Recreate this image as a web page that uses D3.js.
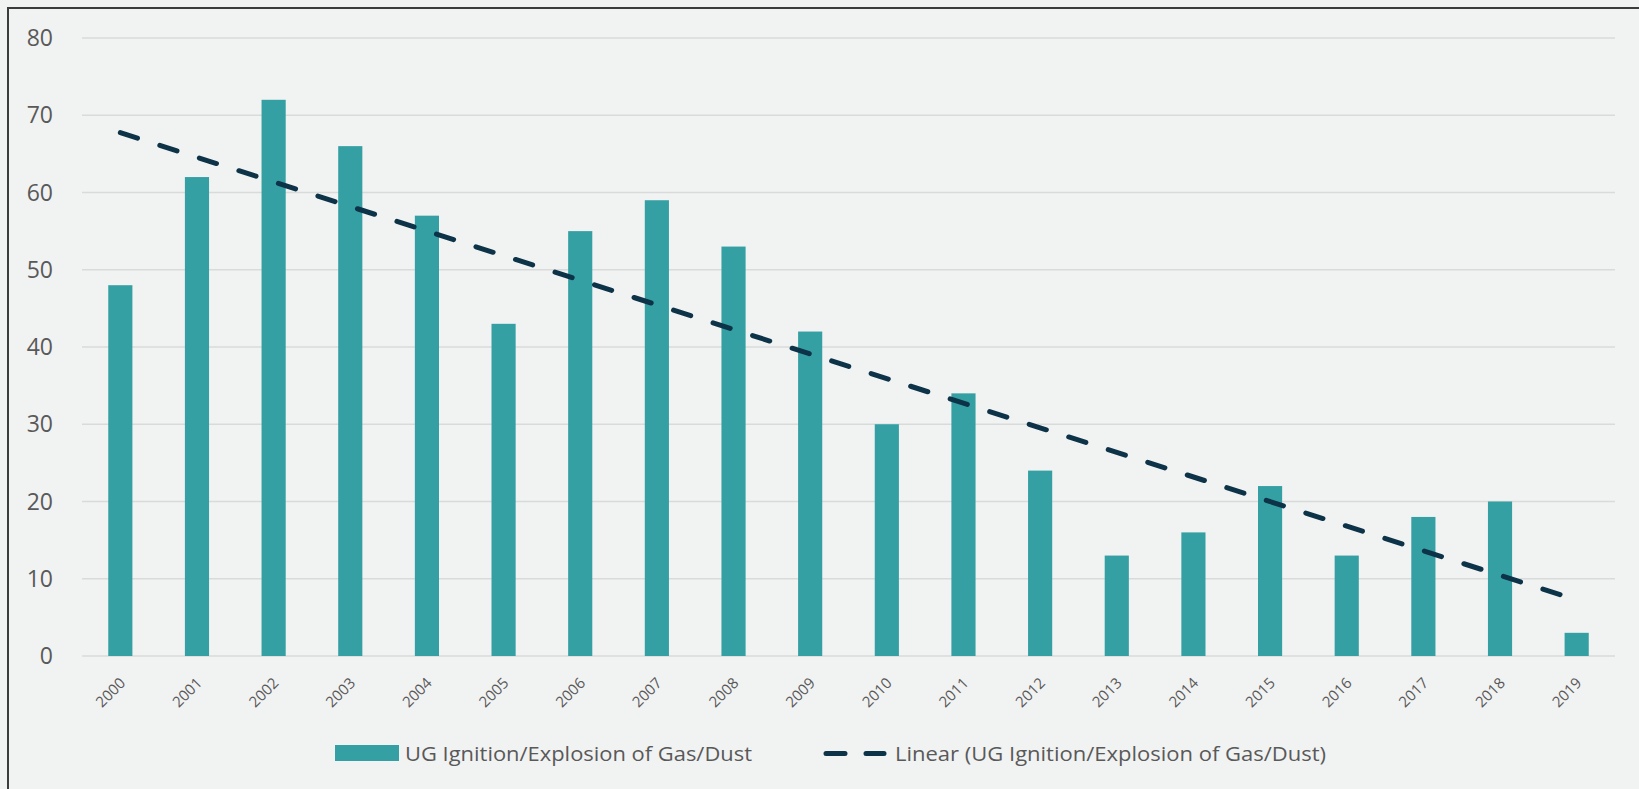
<!DOCTYPE html>
<html>
<head>
<meta charset="utf-8">
<script src="https://cdn.jsdelivr.net/npm/d3@7"></script>
<style>
  html, body { margin: 0; padding: 0; background: #f1f2f2; overflow: hidden; }
  svg { display: block; }
</style>
</head>
<body>
<svg id="chart" width="1639" height="789"></svg>
<script>
// Underground ignitions / explosions of gas or dust per year
const years = ["2000","2001","2002","2003","2004","2005","2006","2007","2008","2009",
               "2010","2011","2012","2013","2014","2015","2016","2017","2018","2019"];
const incidents = [48, 62, 72, 66, 57, 43, 55, 59, 53, 42,
                   30, 34, 24, 13, 16, 22, 13, 18, 20, 3];
const yTicks = [0, 10, 20, 30, 40, 50, 60, 70, 80];
const seriesName = "UG Ignition/Explosion of Gas/Dust";
const trendName = "Linear (UG Ignition/Explosion of Gas/Dust)";

const W = 1639, H = 789;
const svg = d3.select("#chart");
const plot = { left: 82, right: 1615, top: 38, bottom: 656 };
const uiFont = "'Open Sans', 'Noto Sans', sans-serif";

svg.append("rect").attr("width", W).attr("height", H).attr("fill", "#f1f2f2");

// frame edges (top and left)
svg.append("line").attr("x1", 7).attr("x2", W).attr("y1", 8).attr("y2", 8)
  .attr("stroke", "#3b3d3c").attr("stroke-width", 2);
svg.append("line").attr("x1", 8).attr("x2", 8).attr("y1", 7).attr("y2", H)
  .attr("stroke", "#3b3d3c").attr("stroke-width", 2);

const x = d3.scaleBand().domain(years).range([plot.left, plot.right])
  .paddingInner(0.685).paddingOuter(0.3425);
const y = d3.scaleLinear().domain([0, 80]).range([plot.bottom, plot.top]);

// horizontal gridlines
svg.append("g").selectAll("line").data(yTicks).join("line")
  .attr("x1", plot.left).attr("x2", plot.right)
  .attr("y1", d => y(d)).attr("y2", d => y(d))
  .attr("stroke", "#d9dbdb").attr("stroke-width", 1.3);

// y axis labels
const yAxis = d3.axisLeft(y).tickValues(yTicks).tickSize(0).tickPadding(0);
svg.append("g").attr("transform", "translate(53,0)").call(yAxis)
  .call(g => g.select(".domain").remove())
  .call(g => g.selectAll("text")
    .attr("fill", "#595959")
    .attr("dy", "0.33em")
    .style("font-family", uiFont)
    .style("font-size", "23px"));

// bars
svg.append("g").selectAll("rect").data(incidents).join("rect")
  .attr("x", (d, i) => x(years[i]))
  .attr("width", x.bandwidth())
  .attr("y", d => y(d))
  .attr("height", d => y(0) - y(d))
  .attr("fill", "#35a0a3");

// x axis labels, rotated
const xAxis = d3.axisBottom(x).tickSize(0).tickPadding(0);
svg.append("g").attr("transform", `translate(0,${plot.bottom})`).call(xAxis)
  .call(g => g.select(".domain").remove())
  .call(g => g.selectAll("text")
    .attr("fill", "#595959")
    .attr("text-anchor", "end")
    .attr("dy", 0)
    .attr("transform", "translate(6,28) rotate(-45)")
    .style("font-family", uiFont)
    .style("font-size", "15px"));

// least-squares trend line
const n = incidents.length;
const xs = d3.range(n);
const mx = d3.mean(xs), my = d3.mean(incidents);
const slope = d3.sum(xs, i => (i - mx) * (incidents[i] - my)) / d3.sum(xs, i => (i - mx) ** 2);
const intercept = my - slope * mx;
const trend = [0, n - 1].map(i => [x(years[i]) + x.bandwidth() / 2, y(intercept + slope * i)]);
svg.append("path")
  .attr("d", d3.line()(trend))
  .attr("fill", "none")
  .attr("stroke", "#0d3349")
  .attr("stroke-width", 5)
  .attr("stroke-linecap", "round")
  .attr("stroke-dasharray", "18,23.5");

// legend
const leg = svg.append("g")
  .style("font-family", uiFont)
  .style("font-size", "19.5px");
leg.append("rect").attr("x", 335).attr("y", 745).attr("width", 64).attr("height", 16).attr("fill", "#35a0a3");
leg.append("text").attr("x", 405).attr("y", 761).attr("fill", "#595959")
  .attr("textLength", 347).attr("lengthAdjust", "spacingAndGlyphs").text(seriesName);
leg.append("line").attr("x1", 826).attr("x2", 884).attr("y1", 753.5).attr("y2", 753.5)
  .attr("stroke", "#0d3349").attr("stroke-width", 5).attr("stroke-linecap", "round")
  .attr("stroke-dasharray", "19,21");
leg.append("text").attr("x", 895).attr("y", 761).attr("fill", "#595959")
  .attr("textLength", 431).attr("lengthAdjust", "spacingAndGlyphs").text(trendName);
</script>
</body>
</html>
